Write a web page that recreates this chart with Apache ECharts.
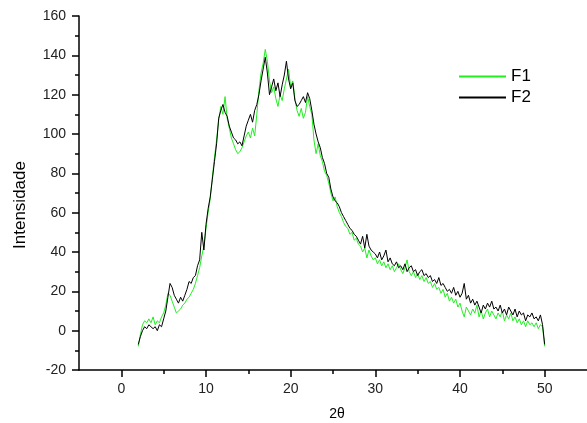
<!DOCTYPE html>
<html>
<head>
<meta charset="utf-8">
<script src="https://cdn.jsdelivr.net/npm/echarts@6/dist/echarts.min.js"></script>
<style>
html,body{margin:0;padding:0;background:#fff;}
#chart{width:587px;height:423px;}
</style>
</head>
<body>
<div id="chart"></div>
<script>
// 2θ sampling grid: start and step of the measured points
const xStart = 2;
const xStep = 0.25;

// F1 (green) intensities, 2θ = 2.0 ... 50.0
const f1Values = [
  -8,-2,3,5,4,6,4,7,
  3,5,4,7,9,13,19,18,
  15,12,9,10,11,13,14,16,
  17,19,21,24,28,32,38,43,
  52,60,67,78,88,97,107,114,
  110,119,108,103,98,95,92,90,
  91,93,96,99,101,98,103,99,
  110,122,131,136,143,137,127,121,
  124,118,114,120,117,123,128,133,
  124,127,118,112,109,113,108,111,
  119,114,110,97,90,95,89,86,
  81,79,75,70,66,68,63,60,
  58,55,53,52,49,50,46,47,
  44,43,40,42,37,41,38,36,
  37,34,36,33,35,32,34,31,
  33,30,32,34,31,29,32,36,
  30,28,30,27,29,26,28,25,
  27,24,25,22,24,21,22,19,
  21,17,19,15,17,14,16,12,
  14,10,7,12,10,8,11,9,
  13,7,10,6,9,11,7,10,
  8,6,9,7,10,5,8,6,
  9,5,7,4,6,3,5,2,
  5,3,4,2,4,1,3,2,
  -8
];

// F2 (black) intensities, 2θ = 2.0 ... 50.0
const f2Values = [
  -7,-3,0,2,1,3,2,1,
  2,0,3,2,6,10,17,24,
  22,18,16,14,17,15,18,21,
  25,24,27,28,33,36,50,41,
  54,62,68,77,86,95,108,112,
  115,111,109,104,101,98,97,95,
  96,94,99,104,107,110,106,112,
  115,120,127,133,139,131,120,124,
  128,122,126,119,125,130,137,128,
  123,126,117,114,115,117,119,116,
  121,118,112,105,100,96,93,88,
  85,80,78,72,68,66,65,63,
  60,58,56,54,52,51,49,48,
  46,44,48,42,49,43,41,40,
  39,37,40,36,38,41,35,37,
  34,33,35,32,33,31,34,30,
  32,33,30,31,28,30,31,28,
  29,27,28,25,26,24,27,23,
  24,22,20,21,19,22,18,20,
  17,19,24,16,18,14,16,13,
  15,12,9,13,11,14,12,15,
  11,12,10,13,9,11,8,12,
  10,8,11,7,10,8,9,5,
  8,7,9,6,7,5,8,3,
  -7
];

const seriesNames = ['F1', 'F2'];
const xMajorTicks = [0, 10, 20, 30, 40, 50];
const xMinorTicks = [5, 15, 25, 35, 45];
const xTitle = '2θ';
const yTitle = 'Intensidade';

function toPairs(vals) {
  return vals.map((v, i) => [xStart + i * xStep, v]);
}

const chart = echarts.init(document.getElementById('chart'), null, {renderer: 'canvas'});
const axisColor = '#000';
const labelColor = '#222';
const font = 'Liberation Sans, Arial, sans-serif';

chart.setOption({
  animation: false,
  backgroundColor: '#fff',
  grid: {left: 79, top: 16, width: 516, height: 354, containLabel: false},
  legend: {
    orient: 'vertical',
    left: 458,
    top: 68,
    padding: 0,
    itemWidth: 47,
    itemHeight: 14,
    itemGap: 4,
    itemStyle: {opacity: 0},
    textStyle: {fontSize: 17, color: '#000', fontFamily: font},
    data: seriesNames
  },
  xAxis: [{
    type: 'value',
    min: -5, max: 55,
    position: 'bottom',
    splitLine: {show: false},
    axisLine: {onZero: false, lineStyle: {color: axisColor, width: 1.5}},
    axisTick: {customValues: xMajorTicks, length: 7, lineStyle: {color: axisColor, width: 1.5}},
    axisLabel: {customValues: xMajorTicks, margin: 12, fontSize: 14, color: labelColor, fontFamily: font}
  }, {
    type: 'value',
    min: -5, max: 55,
    position: 'bottom',
    splitLine: {show: false},
    axisLine: {show: false, onZero: false},
    axisTick: {customValues: xMinorTicks, length: 4, lineStyle: {color: axisColor, width: 1.5}},
    axisLabel: {show: false}
  }],
  yAxis: {
    type: 'value',
    min: -20, max: 160, interval: 20,
    splitLine: {show: false},
    axisLine: {show: true, onZero: false, lineStyle: {color: axisColor, width: 1.5}},
    axisTick: {show: true, length: 7, lineStyle: {color: axisColor, width: 1.5}},
    minorTick: {show: true, splitNumber: 2, length: 4, lineStyle: {color: axisColor, width: 1.5}},
    axisLabel: {margin: 13, fontSize: 14, color: labelColor, fontFamily: font}
  },
  graphic: [
    {type: 'text', x: 337, y: 414, style: {text: xTitle, align: 'center', verticalAlign: 'middle', fontSize: 14, fill: '#000', fontFamily: font}},
    {type: 'text', x: 20, y: 205, rotation: Math.PI / 2, style: {text: yTitle, align: 'center', verticalAlign: 'middle', fontSize: 17, fill: '#000', fontFamily: font}}
  ],
  series: [{
    name: seriesNames[0],
    type: 'line',
    data: toPairs(f1Values),
    symbol: 'none',
    lineStyle: {color: '#22ee22', width: 1},
    itemStyle: {color: '#22ee22'}
  }, {
    name: seriesNames[1],
    type: 'line',
    data: toPairs(f2Values),
    symbol: 'none',
    lineStyle: {color: '#000', width: 1},
    itemStyle: {color: '#000'}
  }]
});
</script>
</body>
</html>
